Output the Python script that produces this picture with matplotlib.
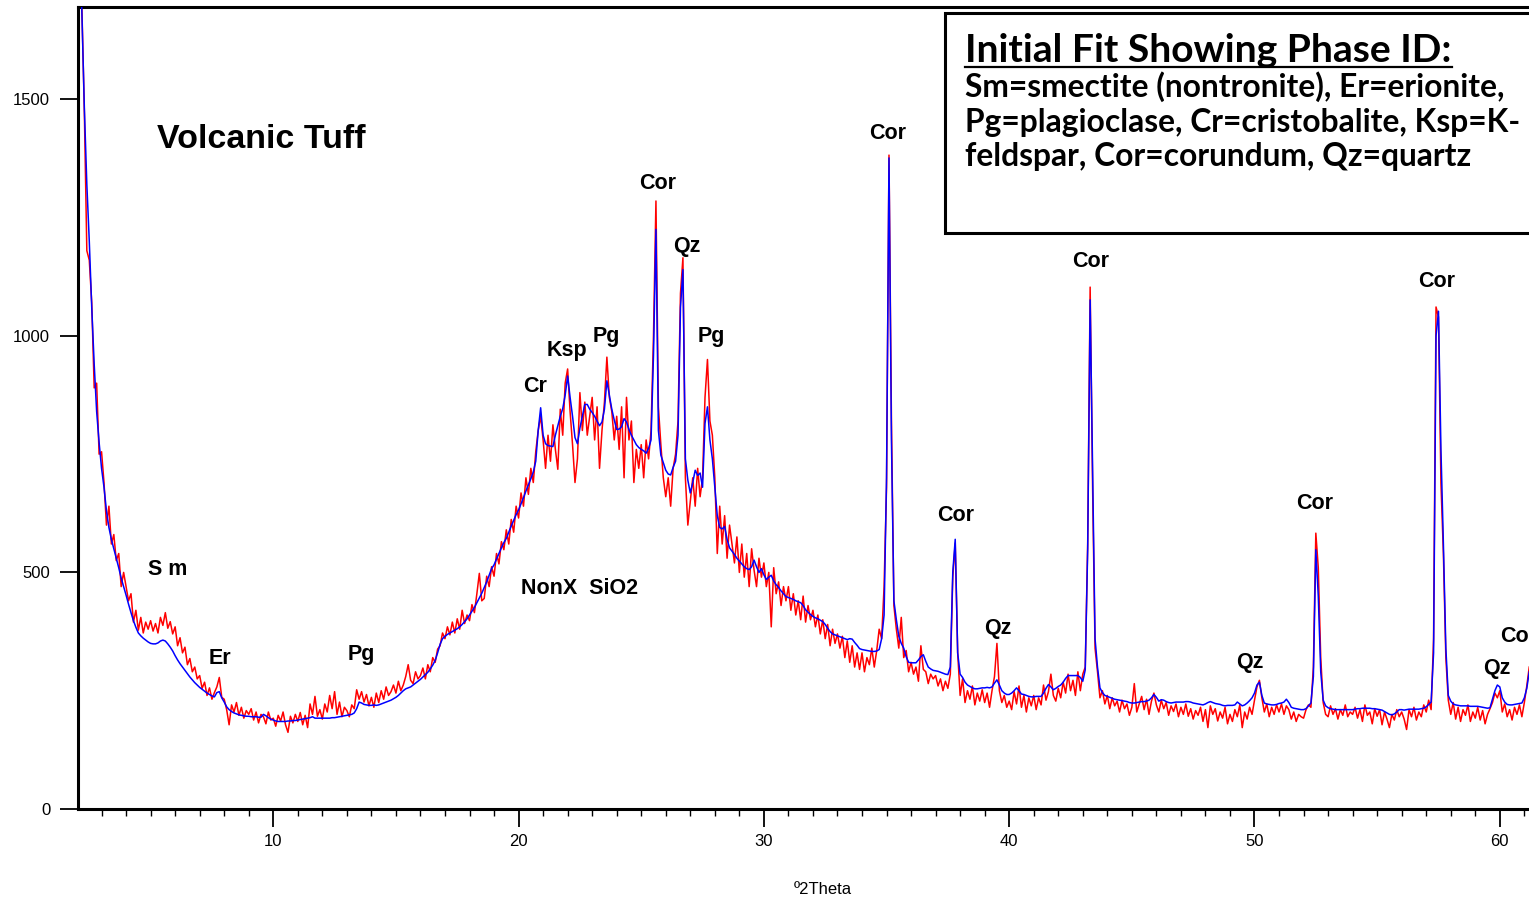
import numpy as np
import matplotlib
matplotlib.use("Agg")
import matplotlib.pyplot as plt
from matplotlib.patches import Rectangle
from matplotlib.lines import Line2D
from matplotlib.ticker import MultipleLocator

plt.rcParams['font.family'] = ['Liberation Sans', 'DejaVu Sans']

# 2-theta grid: 2.1 ... 61.2 in 0.1 degree steps
two_theta = np.arange(21, 613) / 10.0

# Calculated (fitted) pattern, blue
calc = [
    1850, 1680, 1480, 1320, 1200, 1060, 940, 840, 775,
    720, 680, 630, 595, 570, 550, 530, 510, 488, 470,
    452, 433, 415, 398, 384, 372, 366, 361, 357, 353,
    350, 349, 349, 351, 355, 357, 355, 349, 342, 334,
    324, 315, 307, 300, 293, 286, 279, 273, 267, 262,
    257, 253, 249, 245, 242, 239, 237, 246, 248, 235,
    226, 216, 210, 206, 203, 201, 199, 198, 197, 196,
    196, 195, 195, 195, 194, 194, 200, 197, 193, 190,
    188, 186, 185, 185, 185, 185, 186, 186, 187, 187,
    188, 189, 190, 191, 192, 193, 195, 192, 192, 192,
    192, 192, 192, 192, 193, 193, 194, 195, 196, 197,
    198, 199, 200, 203, 212, 226, 224, 221, 220, 219,
    219, 220, 219, 220, 222, 224, 226, 228, 230, 233,
    236, 240, 245, 250, 254, 256, 258, 262, 266, 270,
    274, 279, 284, 289, 296, 304, 314, 330, 348, 360,
    365, 369, 372, 375, 378, 381, 385, 390, 396, 402,
    410, 418, 426, 436, 446, 456, 468, 480, 494, 508,
    516, 528, 540, 552, 563, 572, 585, 598, 610, 622,
    632, 645, 658, 672, 685, 698, 712, 735, 800, 848,
    790, 772, 768, 767, 766, 790, 810, 830, 846, 875,
    915, 870, 830, 785, 772, 805, 830, 855, 855, 845,
    838, 830, 820, 810, 818, 845, 905, 875, 845, 822,
    802, 803, 808, 825, 818, 802, 790, 780, 770, 764,
    760, 757, 752, 762, 780, 960, 1225, 800, 748, 732,
    716, 708, 706, 722, 735, 790, 1060, 1140, 740, 695,
    668, 690, 716, 705, 710, 680, 815, 850, 780, 740,
    680, 620, 595, 592, 597, 570, 552, 545, 538, 530,
    524, 518, 512, 508, 506, 512, 526, 512, 500, 508,
    495, 485, 490, 494, 482, 474, 468, 461, 455, 449,
    447, 445, 443, 440, 438, 436, 430, 421, 416, 411,
    407, 404, 402, 399, 396, 390, 382, 375, 370, 368,
    366, 364, 362, 360, 358, 360, 359, 352, 346, 339,
    337, 336, 335, 334, 333, 333, 334, 337, 360, 410,
    700, 1376, 780, 440, 400, 365, 350, 340, 322, 310,
    309, 309, 309, 315, 322, 326, 312, 300, 296, 293,
    292, 291, 289, 287, 285, 284, 300, 500, 570, 330,
    285, 278, 268, 262, 259, 256, 254, 254, 255, 256,
    256, 257, 256, 258, 266, 273, 262, 250, 245, 242,
    242, 245, 250, 256, 250, 243, 242, 240, 238, 237,
    237, 238, 238, 238, 245, 255, 263, 258, 252, 255,
    259, 262, 268, 276, 282, 282, 282, 282, 282, 278,
    270, 294, 550, 1076, 720, 360, 300, 256, 246, 240,
    238, 236, 234, 232, 231, 230, 229, 228, 227, 225,
    224, 224, 225, 226, 227, 227, 228, 230, 235, 242,
    236, 228, 231, 230, 227, 225, 224, 225, 226, 226,
    226, 226, 227, 227, 226, 224, 223, 222, 221, 220,
    222, 225, 227, 225, 223, 222, 221, 219, 218, 219,
    219, 219, 220, 226, 222, 218, 220, 224, 229, 235,
    245, 262, 268, 240, 224, 222, 221, 220, 220, 221,
    223, 224, 226, 232, 225, 215, 213, 212, 211, 210,
    210, 212, 218, 224, 280, 548, 450, 290, 230, 218,
    214, 212, 211, 210, 210, 210, 210, 210, 210, 210,
    210, 211, 212, 212, 213, 213, 213, 213, 212, 212,
    211, 210, 209, 206, 203, 200, 199, 201, 205, 210,
    210, 209, 210, 211, 211, 211, 211, 211, 212, 213,
    216, 221, 226, 330, 1000, 1052, 760, 560, 340, 240,
    228, 222, 220, 219, 218, 218, 218, 218, 217, 217,
    217, 217, 216, 215, 214, 213, 214, 232, 250, 262,
    258, 235, 226, 221, 220, 220, 221, 222, 223, 224,
    235, 255, 290,
]

# Observed pattern, red
observed = [
    1850, 1690, 1470, 1180, 1160, 1070, 890, 900, 750,
    755, 690, 600, 640, 560, 580, 525, 540, 470, 500,
    470, 440, 455, 395, 420, 378, 405, 372, 395, 380,
    398, 376, 392, 372, 405, 388, 415, 382, 396, 370,
    385, 345, 362, 330, 342, 305, 318, 290, 300, 275,
    282, 255, 268, 240, 256, 232, 246, 258, 278, 236,
    232, 210, 178, 220, 205, 225, 198, 215, 192, 208,
    200, 212, 188, 205, 182, 200, 195, 180, 205, 188,
    192, 175, 198, 186, 205, 178, 162, 196, 182, 200,
    185, 204, 178, 198, 172, 222, 200, 238, 196, 210,
    190, 222, 205, 240, 212, 248, 200, 226, 195, 215,
    208, 195, 220, 212, 252, 232, 248, 226, 242, 218,
    236, 215, 245, 225, 250, 232, 258, 240, 248, 262,
    245, 270, 250, 262, 280, 305, 272, 265, 290, 275,
    282, 298, 275, 305, 290, 320, 310, 338, 345, 372,
    360, 385, 368, 395, 372, 402, 380, 420, 392, 410,
    398, 432, 415, 455, 498, 440, 445, 492, 470, 512,
    492, 540, 518, 565, 548, 590, 560, 612, 585, 640,
    615, 668, 640, 700, 665, 720, 690, 755, 800, 830,
    780, 720, 790, 735, 812, 760, 718, 845, 790, 900,
    930, 840, 770, 690, 740, 880, 800, 860, 790, 830,
    870, 780, 850, 720, 800, 860, 955, 870, 840, 780,
    830, 760, 850, 700, 870, 780, 820, 690, 760, 720,
    770, 700, 780, 740, 800, 1000, 1285, 850, 770, 700,
    660, 700, 640, 720, 750, 820, 1090, 1165, 700, 600,
    650, 700, 640, 720, 660, 700, 870, 950, 820, 790,
    700, 540, 640, 560, 620, 530, 600, 560, 520, 575,
    500, 560, 490, 540, 470, 550, 505, 470, 530, 490,
    520, 470, 500, 385, 510, 455, 480, 430, 470, 440,
    470, 420, 455, 410, 440, 400, 450, 395, 430, 400,
    420, 385, 410, 370, 400, 360, 390, 345, 380, 350,
    370, 340, 365, 320, 355, 310, 345, 300, 330, 295,
    330, 290, 320, 305, 340, 300, 335, 380, 360, 470,
    680, 1382, 820, 430, 380, 340, 405, 320, 335, 290,
    310, 285, 300, 270, 345, 295, 290, 265, 285, 275,
    282, 260, 275, 250, 270, 255, 285, 490, 562, 330,
    240, 275, 225, 250, 232, 260, 220, 245, 228, 252,
    225, 245, 215, 250, 280, 350, 250, 225, 240, 215,
    228, 210, 248, 222, 260, 215, 240, 205, 235, 218,
    240, 210, 235, 220, 262, 230, 248, 285, 240, 228,
    255, 235, 268, 245, 285, 250, 272, 240, 290, 250,
    285, 300, 560, 1103, 680, 340, 290, 235, 250, 222,
    240, 212, 235, 218, 228, 205, 230, 212, 222, 198,
    215, 265, 205, 222, 238, 210, 232, 200, 228, 245,
    220, 205, 230, 212, 225, 198, 218, 206, 222, 195,
    215, 200, 222, 196, 212, 190, 208, 198, 215, 185,
    210, 172, 218, 200, 212, 186, 205, 192, 215, 180,
    200, 185, 210, 195, 220, 172, 205, 190, 215, 200,
    230, 258, 272, 235, 205, 222, 195, 215, 200, 220,
    205, 222, 200, 218, 210, 190, 205, 185, 200, 195,
    192, 210, 220, 215, 300, 583, 510, 320, 225, 200,
    195, 218, 200, 212, 190, 210, 198, 220, 195, 205,
    200, 215, 192, 210, 185, 220, 198, 205, 180, 212,
    196, 210, 178, 205, 190, 172, 200, 188, 210, 195,
    205, 190, 168, 210, 195, 215, 188, 205, 195, 220,
    205, 230, 210, 360, 1061, 1040, 689, 540, 320, 230,
    200, 225, 190, 215, 185, 210, 198, 220, 185, 205,
    192, 215, 188, 208, 180, 200, 212, 225, 245, 235,
    250, 205, 222, 195, 210, 188, 215, 200, 220, 195,
    225, 260, 300,
]

# Phase labels: text, x (2theta), y (counts)
label_text = ["S m", "Er", "Pg", "NonX  SiO2", "Cr", "Ksp", "Pg", "Cor", "Qz", "Pg",
              "Cor", "Cor", "Qz", "Cor", "Qz", "Cor", "Cor", "Qz"]
label_x = [5.71, 7.83, 13.58, 22.5, 20.67, 21.97, 23.56, 25.68, 26.86, 27.84,
           35.06, 37.83, 39.54, 43.34, 49.82, 52.47, 57.44, 59.89]
label_y = [506, 318, 326, 466, 892, 970, 998, 1321, 1188, 998,
           1427, 620, 381, 1157, 309, 645, 1114, 297]

yticks = [0, 500, 1000, 1500]
xticks = [10, 20, 30, 40, 50, 60]

assert len(calc) == len(two_theta) and len(observed) == len(two_theta)

W, H = 1529, 897
fig = plt.figure(figsize=(W / 100, H / 100), dpi=100)
ax = fig.add_axes([78 / W, (H - 809) / H, 1 - 78 / W, (809 - 7) / H])

ax.plot(two_theta, observed, color='#ff0000', lw=1.1, zorder=2)
ax.plot(two_theta, calc, color='#0000ff', lw=1.1, zorder=3)

ax.set_xlim(2.04, 61.19)
ax.set_ylim(0, 1695)

for s in ['left', 'top', 'bottom']:
    ax.spines[s].set_linewidth(2.2)
    ax.spines[s].set_color('black')
ax.spines['right'].set_visible(False)

ax.set_yticks(yticks)
ax.set_xticks(xticks)
ax.xaxis.set_minor_locator(MultipleLocator(1))
ax.tick_params(axis='y', which='major', direction='out', length=13, width=1.3,
               pad=7, labelsize=12)
ax.tick_params(axis='x', which='major', direction='out', length=13, width=1.3,
               pad=5, labelsize=12)
ax.tick_params(axis='x', which='minor', direction='out', length=5, width=1.0)

for t, x, y in zip(label_text, label_x, label_y):
    ax.text(x, y, t, ha='center', va='center', fontsize=15.5, fontweight='bold',
            color='black', zorder=5)
ax.text(60.0, 364, "Cor", ha='left', va='center', fontsize=15.5, fontweight='bold',
        clip_on=False, zorder=5)

ax.text(5.26, 1414, "Volcanic Tuff", ha='left', va='center', fontsize=24.5,
        fontweight='bold', zorder=5)

fig.text(823 / W, 1 - 889 / H, "º2Theta", ha='center', va='center', fontsize=12)

# Legend box
fig.patches.append(Rectangle((945 / W, 1 - 233 / H), 0.5, (233 - 13) / H,
                             transform=fig.transFigure, fill=True, facecolor='white',
                             edgecolor='black', lw=2.2, zorder=10))

box_font = ['Lato', 'DejaVu Sans']
title = fig.text(965 / W, 1 - 61.7 / H, "Initial Fit Showing Phase ID:", ha='left',
                 va='baseline', fontsize=24, fontweight='bold', family=box_font, zorder=11)
lines = ["Sm=smectite (nontronite), Er=erionite,",
         "Pg=plagioclase, Cr=cristobalite, Ksp=K-",
         "feldspar, Cor=corundum, Qz=quartz"]
baselines = [96.5, 131.7, 166.3]
body = [fig.text(965 / W, 1 - b / H, s, ha='left', va='baseline', fontsize=18,
                 fontweight='bold', family=box_font, zorder=11)
        for s, b in zip(lines, baselines)]

fig.canvas.draw()
r = fig.canvas.get_renderer()
bw = title.get_window_extent(r).width
title.set_fontsize(24 * 487 / bw)
bw = body[0].get_window_extent(r).width
for t in body:
    t.set_fontsize(18 * 541 / bw)
fig.canvas.draw()
ext = title.get_window_extent(r)
fig.add_artist(Line2D([ext.x0 / W, ext.x1 / W], [1 - 66.7 / H, 1 - 66.7 / H],
                      transform=fig.transFigure, color='black', lw=1.6, zorder=12))

fig.savefig("out.png", dpi=100)
